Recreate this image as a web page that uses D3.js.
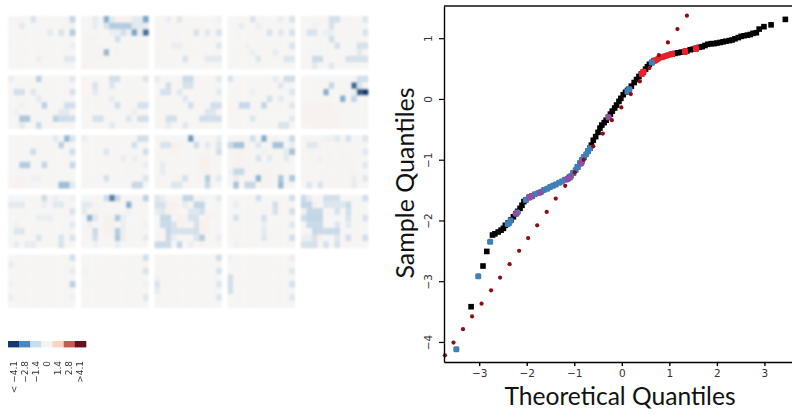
<!DOCTYPE html>
<html>
<head>
<meta charset="utf-8">
<script src="https://cdn.jsdelivr.net/npm/d3@7/dist/d3.min.js"></script>
<style>
  html, body { margin: 0; padding: 0; background: #fff; overflow: hidden; }
  svg { display: block; }
</style>
</head>
<body>
<div id="chart"></div>
<script>
// heatmap panels, 8 rows x 12 columns
var p01 = [[0,0,0,0,-.8,0,0,0,0,0,0,-1.4],[0,0,-.5,0,0,0,0,0,0,0,0,-.2],[0,0,0,0,0,0,0,-.5,0,-.8,0,-1.6],[0,0,0,0,0,0,0,0,0,0,0,0],[0,0,0,0,0,0,0,0,0,0,0,-.3],[0,0,0,0,0,0,0,0,0,0,0,0],[0,0,0,0,0,-.3,0,0,0,0,-.6,-.6],[0,0,0,0,0,0,0,0,0,0,0,0]];
var p02 = [[0,0,-.4,0,-2.2,-.5,.2,.2,.2,-.5,-.5,-2.4],[0,0,-.4,0,-.8,-1.6,-1.6,-1.6,-1.6,-.6,-.5,-.4],[0,0,.1,0,0,-.3,-.3,-1,-.3,-2.4,-.3,-3.3],[.1,.1,.1,0,0,0,-1,0,0,0,0,0],[.1,.1,.1,.1,0,0,.1,0,0,0,0,0],[.1,.1,.1,.1,-2,0,.2,0,0,0,0,0],[.1,.1,.1,.1,.1,0,.1,0,0,0,0,0],[.2,.1,.1,.1,.1,.1,.1,0,0,.1,0,0]];
var p03 = [[0,0,-.3,0,-.6,0,0,0,0,0,0,-.2],[0,0,0,0,0,0,0,0,0,0,0,0],[0,0,0,0,0,0,0,-.9,0,-.6,0,-.8],[0,0,0,0,0,0,0,0,0,0,0,0],[0,0,0,-.3,-.3,0,0,0,0,0,0,-.6],[0,0,0,0,0,0,0,0,0,0,0,0],[0,0,0,0,0,-.8,0,0,0,-.5,-.5,-.5],[0,0,0,0,0,0,0,0,0,0,0,0]];
var p04 = [[0,0,0,0,-.8,0,0,0,0,-.3,0,-.8],[0,0,-.4,0,0,-.3,0,0,0,0,0,0],[0,0,0,0,0,0,0,-.8,0,-.6,0,-.9],[0,0,0,0,0,0,0,0,0,0,0,0],[0,0,0,-.2,0,0,0,0,0,0,0,-.8],[0,0,0,0,-.3,0,0,0,-.4,0,0,0],[0,0,0,0,0,-.7,0,0,0,0,-.7,-.7],[0,0,0,0,0,0,0,0,0,0,0,0]];
var p05 = [[0,0,0,0,0,-1,-1,0,.1,0,0,-.7],[0,0,-.2,0,0,-.9,0,0,0,0,0,0],[0,-.8,-.8,0,-.3,-.3,0,0,0,0,0,-.8],[0,0,0,0,0,-1,0,0,0,0,0,0],[0,0,0,0,0,0,-.9,0,0,0,-.9,-.9],[0,0,0,0,0,0,0,0,0,0,-.5,0],[0,0,-1.2,-1.2,0,0,0,0,-.9,-.9,-.9,-.9],[.1,0,-.5,0,0,-.6,0,0,0,0,0,0]];
var p06 = [[-.3,0,0,0,0,-1.5,0,0,0,0,0,-.6],[0,0,0,0,0,0,0,0,0,0,0,0],[0,-1,-1,0,-.7,0,0,0,0,0,0,-.9],[0,0,0,0,0,-.5,0,0,0,0,0,0],[0,0,-.2,0,0,0,-1.5,0,0,0,-1,-1],[0,-.2,0,0,0,0,0,0,0,-.5,-.5,0],[0,0,-1.7,-1.7,0,0,0,0,-1.5,-1.1,-1,-1],[0,0,-.5,0,0,-1.2,0,0,0,0,0,0]];
var p07 = [[0,0,0,0,0,-1,-1,0,0,0,0,-.7],[0,0,-.8,0,0,-.7,0,0,0,0,0,0],[0,0,-.5,0,0,0,0,0,0,0,0,0],[0,0,0,0,0,-.4,0,0,0,0,0,0],[0,0,0,0,0,0,-1,0,0,0,-.9,-.9],[0,0,0,0,0,0,0,0,0,-.3,0,0],[0,0,-.9,-.9,0,0,0,0,-.7,0,-1,-1],[0,0,0,0,0,-.5,0,0,0,0,0,0]];
var p08 = [[-.4,0,0,0,0,-1.2,-1.2,0,0,0,0,-.5],[0,0,-1,0,0,-.9,-.9,0,0,0,0,0],[0,-.9,-.9,0,-.6,0,0,0,0,0,0,-.5],[0,0,0,0,0,-.6,0,0,0,0,0,0],[0,0,0,0,0,0,-1,0,0,0,-1,-1],[0,0,0,0,0,0,0,0,0,-.7,-.7,0],[0,0,-1,-1,0,0,0,0,-1,-1,-1,-1],[0,0,-.4,0,0,-.6,0,0,0,0,0,0]];
var p09 = [[-.8,0,0,0,0,0,0,0,-.4,0,-1.1,-1.1],[0,0,0,0,0,0,0,0,0,-.6,0,0],[0,0,0,0,-.3,0,0,0,0,0,0,-.7],[0,0,0,0,0,0,0,-1,0,-.5,0,0],[.1,0,-1.3,-1.3,0,0,-1.4,0,0,0,0,-.6],[.2,0,0,0,0,0,0,0,0,0,0,0],[.1,0,0,0,-.7,0,0,0,0,0,0,-.5],[0,0,0,0,0,0,0,0,0,-.8,-.8,0]];
var p10 = [[0,0,0,0,0,0,0,0,0,0,-1,-1],[0,0,0,0,0,-1.3,0,0,0,-3.4,-.8,0],[0,0,0,0,-2.2,0,0,0,0,-.3,-3.6,-4.2],[0,0,0,0,0,0,0,-2.2,0,-1.4,0,0],[.2,.2,.2,.2,.2,.2,.1,.1,0,0,0,0],[.2,.2,.2,.2,.2,.2,.2,.1,.1,0,0,0],[.2,.2,.2,.2,.2,.2,.2,.1,.1,.1,0,0],[.1,.1,.2,.2,.2,.2,.2,.1,.1,0,0,0]];
var p11 = [[0,0,0,0,0,0,0,0,-.5,0,-2,-.8],[0,0,0,0,0,0,0,0,0,-1.5,0,0],[0,0,0,0,-1.1,0,0,0,0,0,0,-1],[0,0,0,0,0,0,0,0,0,0,0,0],[0,0,-1.6,-1.6,0,0,-1.4,0,0,0,0,-1.3],[0,0,0,0,0,0,0,0,0,0,0,0],[.1,.2,.2,0,-.2,-.2,0,0,0,0,0,0],[.1,.2,.2,.1,0,0,0,0,0,-1.9,-1.9,-.5]];
var p12 = [[-.3,0,0,0,0,0,0,0,0,0,-1,-1],[0,0,0,0,0,0,0,0,0,-1,0,0],[0,0,0,0,-.7,0,0,0,0,0,0,-1],[0,0,0,0,0,0,0,-.3,0,-.3,0,0],[0,0,0,0,0,0,0,0,0,0,0,-.3],[0,0,0,0,0,0,0,0,0,0,0,0],[0,0,0,0,-.9,0,0,0,0,0,0,-.7],[0,0,0,0,0,0,0,0,0,-1.3,-1.3,0]];
var p13 = [[0,0,0,0,0,.1,-2.6,0,0,0,0,-.4],[0,-.8,-.8,.4,.4,0,0,-1.1,0,-.5,0,-.7],[0,0,0,.2,0,0,0,0,0,.1,0,-1],[0,0,0,0,0,0,0,0,.2,.3,0,0],[0,-.4,0,0,0,0,0,0,.3,.4,0,0],[0,-.4,0,0,0,0,0,0,.2,.2,0,0],[0,0,0,.1,.2,-.9,0,0,0,-1.6,0,-.5],[0,.1,.1,-.7,-.7,0,0,0,0,-1.3,0,0]];
var p14 = [[.1,.1,.1,.1,-1,0,-2.2,.1,.2,0,0,-1.2],[-1.2,-1.8,-1.8,.1,0,-.7,0,.1,-1.8,-1.8,0,-.3],[.1,.2,.2,.1,0,0,-.2,.1,.1,0,-.5,-1.8],[.1,.2,.2,.1,0,-.8,0,-.5,0,0,-.5,0],[.1,.2,.2,.2,.1,0,.1,.1,.1,.1,0,0],[-.2,-1.3,-1.3,.2,.1,.1,.2,.2,.1,.1,0,0],[0,-.3,.1,.1,.1,-2.1,.2,.2,.1,-1.7,0,-1.7],[0,-1.8,0,-1.3,-1.3,0,.2,.2,.1,-2,0,0]];
var p15 = [[.1,.1,.1,.1,-.2,-.2,-.6,.1,-.9,0,0,-.7],[0,-.6,-.6,.2,.1,0,.1,.1,0,0,0,0],[.1,.1,.1,.1,.1,.1,.1,.2,.1,0,0,-.6],[.1,.1,.1,-.2,.1,.1,.1,.2,.1,0,0,0],[.1,.1,.1,.1,.1,.1,.1,.1,.1,.1,0,-.6],[.1,.1,.1,.1,.1,.1,.1,.1,.1,.1,0,0],[.1,.1,.1,.1,.1,.1,.1,.1,.1,-.3,0,-.6],[0,-.7,0,-.8,0,.1,.1,.1,.1,-.4,0,0]];
var p16 = [[0,0,0,0,0,0,-1.1,0,-.3,0,0,-.2],[-.5,-.5,-.5,0,0,0,-.3,0,-.6,-.6,0,0],[0,0,0,0,0,0,0,0,0,0,0,-.8],[0,0,0,0,0,-.3,-.3,-.3,0,0,0,0],[0,-.2,0,0,0,0,0,0,0,0,0,-.5],[0,-.7,-.7,0,0,0,0,0,0,0,0,0],[0,0,0,0,0,-.8,0,0,0,-.8,0,-.8],[0,-.4,0,-.4,-.4,0,0,0,0,-.9,0,0]];
var p17 = [[0,0,0,0,-1.1,-3,-1.3,0,0,0,0,-1.5],[-.5,-.5,.2,.1,0,0,0,0,-2.2,0,0,0],[-.5,0,.2,.1,0,0,0,0,-.2,0,0,0],[0,-2.1,-.6,0,.3,.3,-1.7,-.3,0,0,0,0],[0,-.2,0,0,.3,.3,0,-.3,0,0,0,-.2],[0,0,-1.2,0,.3,.2,-1.6,-.3,0,0,0,0],[0,0,-1,0,.1,.1,-1.7,-.3,0,0,0,-.4],[0,0,-.2,0,0,0,-.3,0,0,0,0,0]];
var p18 = [[-.7,-.3,0,0,0,-1.4,-1.4,0,.3,0,0,-.5],[-.9,-.9,.5,.3,0,-.4,0,-1.4,-1.4,0,0,0],[-.4,-.6,.2,.2,0,0,-.6,-.6,-1,0,0,0],[0,-1.3,-1.3,0,.3,.2,-.9,-.9,0,.3,0,0],[0,-1.2,-1.2,-.8,.2,.2,0,-.9,.4,.2,0,0],[0,0,-1.3,-.9,-.9,-.9,-.9,-1,.3,.2,0,0],[0,0,-1.2,-.3,0,0,0,-.7,-1.6,0,0,-.3],[-1.2,-1.2,-1.2,0,-1.4,0,-.3,0,.1,0,0,0]];
var p19 = [[0,0,0,0,0,-1,0,0,0,0,0,-1],[0,-.3,0,0,0,0,0,0,-1,0,0,0],[0,0,0,0,0,0,0,0,-.9,0,0,-1],[0,-.9,0,0,0,0,-.9,0,0,0,0,0],[.1,0,.1,.1,0,0,-.3,0,0,0,0,-.6],[.1,.1,.1,.1,0,0,-.5,.1,0,0,0,0],[.1,.1,.1,.1,0,0,-.7,.1,0,0,0,-1],[0,-.2,.1,.1,0,0,0,0,0,0,0,0]];
var p20 = [[-1.2,-.4,0,0,-1,-1,-1,0,0,0,0,-1],[-1.4,-1.4,-.2,0,-.7,-.7,-.7,-.7,-1.2,0,0,0],[-.2,-1.3,-1.3,-1.3,0,0,-.9,0,-1,0,0,0],[-1.1,-1.4,-1.4,-1.4,0,0,0,0,-.8,0,0,-.8],[0,-1.2,-1.2,-1.2,0,0,-.7,0,-.5,0,0,0],[0,0,-1.3,-1.2,-1.2,-1.2,-1.2,0,0,0,0,0],[-.3,-.3,-.8,.3,0,0,-.7,0,-1,0,0,-1],[-.9,-.9,-.9,0,-.9,0,-.9,0,0,0,0,0]];
var p21 = [[0,0,0,0,0,0,0,0,0,0,0,-1],[-.4,0,0,0,0,0,0,0,0,0,0,0],[0,0,0,0,0,0,0,0,0,0,0,-.4],[0,0,0,0,0,0,0,0,0,0,0,0],[-.2,0,0,0,0,0,0,0,0,0,0,-1.5],[0,0,0,0,0,0,0,0,0,0,0,0],[-.3,0,0,0,0,0,0,0,0,0,0,-.2],[0,0,0,0,0,0,0,0,0,0,0,0]];
var p22 = [[0,0,0,0,0,0,0,0,0,0,0,-1],[0,0,0,0,0,0,0,0,0,0,0,0],[-.1,0,0,0,0,0,0,0,0,0,0,-.8],[0,0,0,0,0,0,0,0,0,0,0,0],[0,0,0,0,0,0,0,0,0,0,0,-.2],[0,0,0,0,0,0,0,0,0,0,0,0],[0,0,0,0,0,0,0,0,0,0,0,-.6],[0,0,0,0,0,0,0,0,0,0,0,0]];
var p23 = [[0,0,0,0,0,0,0,0,0,0,0,-1],[0,0,0,0,0,0,0,0,0,0,0,0],[0,0,0,0,0,0,0,0,0,0,0,-.8],[-.2,0,0,0,0,0,0,0,0,0,0,0],[-.8,0,0,0,0,0,0,0,0,0,0,-.7],[-.4,0,0,0,0,0,0,0,0,0,0,0],[0,0,0,0,0,0,0,0,0,0,0,-.7],[0,0,0,0,0,0,0,0,0,0,0,0]];
var p24 = [[-.2,0,0,0,0,0,0,0,0,0,0,-.3],[0,0,0,0,0,0,0,0,0,0,0,0],[0,0,0,0,0,0,0,0,0,0,0,-.6],[-1,0,0,0,0,0,0,0,0,0,0,0],[-1,0,0,0,0,0,0,0,0,0,0,-.9],[-1,0,0,0,0,0,0,0,0,0,0,0],[0,0,0,0,0,0,0,0,0,0,0,-.6],[0,0,0,0,0,0,0,0,0,0,0,0]];
var panels = [p01,p02,p03,p04,p05,p06,p07,p08,p09,p10,p11,p12,p13,p14,p15,p16,p17,p18,p19,p20,p21,p22,p23,p24];

// colour key
var keyLabels = ["< \u22124.1", "\u22122.8", "\u22121.4", "0", "1.4", "2.8", ">4.1"];
var keyValues = [-4.1, -2.8, -1.4, 0, 1.4, 2.8, 4.1];
var keyColors = ["#12386f", "#4a87bd", "#c9dfef", "#f6f4f2", "#fbd5c4", "#cd5850", "#6a0a24"];
// cells come out greyer than the key
var cellColors = ["#0f3a6e", "#5d93b8", "#c2d6e6", "#f6f5f4", "#fbe3d6", "#cd5850", "#6a0a24"];

// qq plot: sample points
var blackX = [-3.17,-2.92,-2.84,-2.72,-2.67,-2.60,-2.54,-2.49,-2.45,-2.39,-2.33,-2.28,-2.23,-2.19,-2.14,-2.10,-2.06,-2.02,-1.95,-1.89,-1.10,-1.02,-0.93,-0.88,-0.84,-0.80,-0.71,-0.67,-0.64,-0.60,-0.55,-0.50,-0.46,-0.42,-0.37,-0.33,-0.28,-0.24,-0.20,-0.15,-0.11,-0.06,-0.02,0.03,0.08,0.12,0.15,0.20,0.26,0.31,0.36,0.41,0.45,0.50,0.54,0.58,0.63,0.68,1.06,1.12,1.18,1.25,1.31,1.37,1.44,1.50,1.56,1.63,1.69,1.75,1.81,1.88,1.94,2.00,2.07,2.13,2.19,2.26,2.32,2.38,2.45,2.51,2.57,2.64,2.70,2.76,2.83,2.89,2.99,3.14,3.44];
var blackY = [-3.42,-2.75,-2.51,-2.24,-2.22,-2.19,-2.16,-2.13,-2.08,-2.04,-1.99,-1.94,-1.89,-1.85,-1.80,-1.75,-1.69,-1.66,-1.62,-1.60,-1.29,-1.22,-1.12,-1.06,-1.01,-0.96,-0.86,-0.81,-0.76,-0.68,-0.62,-0.55,-0.48,-0.43,-0.39,-0.35,-0.30,-0.25,-0.20,-0.15,-0.10,-0.04,0.01,0.07,0.11,0.14,0.16,0.21,0.27,0.32,0.37,0.41,0.44,0.49,0.53,0.57,0.60,0.63,0.74,0.75,0.76,0.77,0.77,0.79,0.81,0.82,0.83,0.85,0.86,0.88,0.90,0.91,0.91,0.92,0.93,0.94,0.95,0.96,0.97,0.99,1.01,1.03,1.04,1.05,1.06,1.08,1.09,1.15,1.19,1.22,1.31];
var blueX = [-3.48,-3.02,-2.77,-2.40,-2.37,-2.34,-2.20,-2.02,-1.95,-1.89,-1.83,-1.76,-1.70,-1.64,-1.57,-1.51,-1.45,-1.39,-1.32,-1.26,-1.20,-1.13,-1.07,-1.02,-0.97,-0.93,-0.88,-0.84,-0.80,-0.75,-0.71,-0.67,0.12,0.14,0.16,0.63];
var blueY = [-4.12,-2.92,-2.35,-2.06,-2.04,-2.00,-1.87,-1.66,-1.62,-1.60,-1.57,-1.55,-1.53,-1.50,-1.48,-1.45,-1.43,-1.41,-1.38,-1.36,-1.33,-1.31,-1.27,-1.22,-1.17,-1.12,-1.06,-1.01,-0.96,-0.91,-0.86,-0.81,0.12,0.14,0.16,0.60];
var purpleX = [-2.23,-1.95,-1.93,-1.90,-1.72,-1.15,-1.09,-0.85,-0.28];
var purpleY = [-1.89,-1.62,-1.61,-1.60,-1.54,-1.32,-1.29,-1.06,-0.30];
var redX = [0.42,0.44,0.46,0.68,0.72,0.76,0.80,0.85,0.89,0.93,0.97,1.01,1.06,1.33,1.33,1.56,1.56];
var redY = [0.41,0.43,0.45,0.63,0.64,0.66,0.68,0.69,0.70,0.71,0.72,0.73,0.74,0.77,0.79,0.82,0.84];

// qq plot: reference line points
var lineX = [-3.72,-3.54,-3.34,-3.15,-2.95,-2.75,-2.56,-2.36,-2.16,-1.97,-1.78,-1.58,-1.39,-1.19,-0.99,-0.80,-0.60,-0.40,-0.21,-0.01,0.19,0.38,0.58,0.78,0.97,1.17,1.37];
var lineY = [-4.22,-4.01,-3.79,-3.58,-3.37,-3.15,-2.94,-2.72,-2.50,-2.29,-2.08,-1.86,-1.64,-1.43,-1.21,-1.00,-0.78,-0.57,-0.35,-0.14,0.08,0.29,0.51,0.72,0.93,1.15,1.37];

var xTicks = [-3, -2, -1, 0, 1, 2, 3];
var yTicks = [-4, -3, -2, -1, 0, 1];

var width = 792, height = 414;
var svg = d3.select("#chart").append("svg").attr("width", width).attr("height", height);

// source picture is soft on the left side
var defs = svg.append("defs");
defs.append("filter").attr("id", "soft")
    .attr("x", "-5%").attr("y", "-5%").attr("width", "110%").attr("height", "110%")
    .append("feGaussianBlur").attr("stdDeviation", 1.2);
defs.append("filter").attr("id", "softKey")
    .attr("x", "-5%").attr("y", "-30%").attr("width", "110%").attr("height", "160%")
    .append("feGaussianBlur").attr("stdDeviation", 0.7);
defs.append("filter").attr("id", "softText")
    .attr("x", "-20%").attr("y", "-20%").attr("width", "140%").attr("height", "140%")
    .append("feGaussianBlur").attr("stdDeviation", 0.35);
defs.append("filter").attr("id", "softMarks")
    .attr("filterUnits", "userSpaceOnUse")
    .attr("x", 430).attr("y", 0).attr("width", 362).attr("height", 370)
    .append("feGaussianBlur").attr("stdDeviation", 0.5);

var color = d3.scaleLinear().domain(keyValues).range(cellColors).clamp(true);

var col = d3.scaleBand().domain(d3.range(5)).range([8, 368]).paddingInner(6 / 73);
var row = d3.scaleBand().domain(d3.range(5)).range([16, 307.5]).paddingInner(6.6 / 59.6);
var cellX = d3.scaleBand().domain(d3.range(12)).range([0, col.bandwidth()]);
var cellY = d3.scaleBand().domain(d3.range(8)).range([0, row.bandwidth()]);

var panel = svg.append("g").selectAll("g")
    .data(panels)
    .enter().append("g")
    .attr("filter", "url(#soft)")
    .attr("transform", function(d, i) {
      return "translate(" + col(i % 5) + "," + row(Math.floor(i / 5)) + ")";
    });

panel.selectAll("g")
    .data(function(d) { return d; })
    .enter().append("g")
    .attr("transform", function(d, i) { return "translate(0," + cellY(i) + ")"; })
    .selectAll("rect")
    .data(function(d) { return d; })
    .enter().append("rect")
    .attr("x", function(d, i) { return cellX(i); })
    .attr("width", cellX.bandwidth() + 0.3)
    .attr("height", cellY.bandwidth() + 0.3)
    .attr("fill", function(d) { return color(d); });

// colour key
var keyX = d3.scaleBand().domain(keyLabels).range([8, 86]);
var key = svg.append("g");
key.append("g").attr("filter", "url(#softKey)").selectAll("rect")
    .data(keyLabels)
    .enter().append("rect")
    .attr("x", function(d) { return keyX(d); })
    .attr("y", 341)
    .attr("width", keyX.bandwidth() + 0.3)
    .attr("height", 6.4)
    .attr("fill", function(d, i) { return keyColors[i]; });
key.append("g").attr("filter", "url(#softText)").selectAll("text")
    .data(keyLabels)
    .enter().append("text")
    .attr("transform", function(d) {
      return "translate(" + (keyX(d) + keyX.bandwidth() / 2 + 3) + ",361) rotate(-90)";
    })
    .attr("text-anchor", "end")
    .style("font-family", "DejaVu Sans")
    .style("font-size", "9px")
    .style("fill", "#333")
    .text(function(d) { return d; });

// qq plot
var x = d3.scaleLinear().domain([-3.74, 3.58]).range([444, 792]);
var y = d3.scaleLinear().domain([-4.33, 1.53]).range([362, 6]);

var marks = svg.append("g").attr("filter", "url(#softMarks)");

function squares(xs, ys, fill, size, rx) {
  marks.append("g").selectAll("rect")
      .data(xs)
      .enter().append("rect")
      .attr("x", function(d) { return x(d) - size / 2; })
      .attr("y", function(d, i) { return y(ys[i]) - size / 2; })
      .attr("width", size)
      .attr("height", size)
      .attr("rx", rx)
      .attr("fill", fill);
}

squares(blackX, blackY, "#000", 5.6, 0);
squares(redX, redY, "#e8242a", 5.8, 1.5);
squares(blueX, blueY, "#3f7fba", 6, 1.5);
squares(purpleX, purpleY, "#8e4fa5", 6.2, 2.6);

marks.append("g").selectAll("circle")
    .data(lineX)
    .enter().append("circle")
    .attr("cx", function(d) { return x(d); })
    .attr("cy", function(d, i) { return y(lineY[i]); })
    .attr("r", 2.1)
    .attr("fill", "#8b0a14");

var xAxis = d3.axisBottom(x).tickValues(xTicks).tickSize(4).tickSizeOuter(0).tickFormat(d3.format("d"));
var yAxis = d3.axisLeft(y).tickValues(yTicks).tickSize(5).tickSizeOuter(0).tickFormat(d3.format("d"));

var gx = svg.append("g").attr("transform", "translate(0,362)").call(xAxis);
var gy = svg.append("g").attr("transform", "translate(444,0)").call(yAxis);

svg.append("line").attr("x1", 444).attr("x2", 792).attr("y1", 6).attr("y2", 6)
    .attr("stroke", "#111").attr("stroke-width", 1.4);

gx.select(".domain").attr("stroke-width", 1.4);
gy.select(".domain").attr("stroke-width", 1.4);
gx.selectAll(".tick line").attr("stroke-width", 1.4);
gy.selectAll(".tick line").attr("stroke-width", 1.2);

gx.selectAll(".tick text")
    .attr("y", 8)
    .style("font-family", "DejaVu Sans")
    .style("font-size", "10.5px")
    .style("fill", "#333");
gy.selectAll(".tick text")
    .attr("x", 0).attr("y", 0).attr("dy", 0)
    .attr("text-anchor", "middle")
    .attr("transform", function() {
      return "translate(-12.5,0) rotate(-90)";
    })
    .style("font-family", "DejaVu Sans")
    .style("font-size", "10.5px")
    .style("fill", "#333");

svg.append("text")
    .attr("x", 620).attr("y", 405)
    .attr("text-anchor", "middle")
    .style("font-family", "Lato")
    .style("font-size", "24.6px")
    .style("fill", "#111")
    .text("Theoretical Quantiles");

svg.append("text")
    .attr("transform", "translate(414,183) rotate(-90)")
    .attr("text-anchor", "middle")
    .style("font-family", "Lato")
    .style("font-size", "25px")
    .style("fill", "#111")
    .text("Sample Quantiles");
</script>
</body>
</html>
